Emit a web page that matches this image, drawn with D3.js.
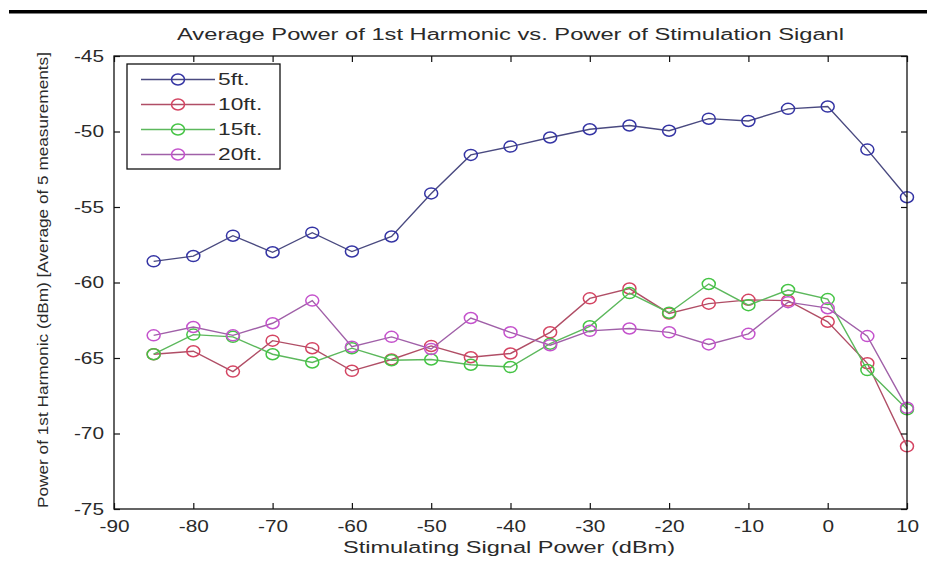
<!DOCTYPE html>
<html>
<head>
<meta charset="utf-8">
<script src="https://cdn.jsdelivr.net/npm/d3@7"></script>
<style>
  body { margin: 0; background: #fff; }
  svg { display: block; font-family: "Liberation Sans", Arial, sans-serif; }
</style>
</head>
<body>
<script>
// stimulating signal power (dBm)
const power = [-85, -80, -75, -70, -65, -60, -55, -50, -45, -40, -35, -30, -25, -20, -15, -10, -5, 0, 5, 10];
const ft5  = [-58.6, -58.25, -56.9, -58.0, -56.7, -57.95, -56.95, -54.1, -51.55, -51.0, -50.4, -49.85, -49.6, -49.95, -49.15, -49.3, -48.5, -48.35, -51.2, -54.35];
const ft10 = [-64.75, -64.55, -65.9, -63.85, -64.35, -65.85, -65.1, -64.2, -64.95, -64.7, -63.3, -61.05, -60.4, -62.05, -61.4, -61.15, -61.2, -62.6, -65.35, -70.85];
const ft15 = [-64.75, -63.45, -63.6, -64.75, -65.3, -64.35, -65.15, -65.1, -65.45, -65.6, -64.05, -62.9, -60.7, -62.0, -60.1, -61.5, -60.5, -61.1, -65.8, -68.4];
const ft20 = [-63.5, -62.95, -63.5, -62.7, -61.2, -64.25, -63.6, -64.4, -62.35, -63.3, -64.15, -63.2, -63.05, -63.3, -64.1, -63.4, -61.3, -61.7, -63.55, -68.3];
const seriesNames = ['5ft.', '10ft.', '15ft.', '20ft.'];
const xTicks = [-90, -80, -70, -60, -50, -40, -30, -20, -10, 0, 10];
const yTicks = [-45, -50, -55, -60, -65, -70, -75];

const lineColors = ['#4a4a80', '#b04e66', '#5cb85c', '#a060a8'];
const markColors = ['#3434a4', '#d44462', '#44c444', '#c452cc'];

const width = 927, height = 564;
const mLeft = 114, mRight = 907, mTop = 56, mBottom = 509;
const K = 1.42; // the picture is stretched sideways
const textColor = '#2a2a2a';

const svg = d3.select('body').append('svg')
    .attr('width', width)
    .attr('height', height);

function stretch(sel, k) {
    sel.each(function () {
        const w = this.getComputedTextLength();
        d3.select(this).attr('textLength', w * k).attr('lengthAdjust', 'spacingAndGlyphs');
    });
}

const x = d3.scaleLinear().domain([-90, 10]).range([mLeft, mRight]);
const y = d3.scaleLinear().domain([-75, -45]).range([mBottom, mTop]);

// rule at the top of the page
svg.append('rect')
    .attr('x', 9).attr('y', 10)
    .attr('width', width - 9).attr('height', 3.5)
    .attr('fill', '#000');

// series
const data = [ft5, ft10, ft15, ft20];
const line = d3.line()
    .x((d, i) => x(power[i]))
    .y(d => y(d));

const gSeries = svg.append('g');
data.forEach((vals, s) => {
    const g = gSeries.append('g');
    g.append('path')
        .attr('d', line(vals))
        .attr('fill', 'none')
        .attr('stroke', lineColors[s])
        .attr('stroke-width', 1.4);
    g.selectAll('ellipse')
        .data(vals)
        .enter().append('ellipse')
        .attr('cx', (d, i) => x(power[i]))
        .attr('cy', d => y(d))
        .attr('rx', 6.5)
        .attr('ry', 5.5)
        .attr('fill', 'none')
        .attr('stroke', markColors[s])
        .attr('stroke-width', 1.5);
});

// axes box with inward ticks
const axisColor = '#111';
svg.append('rect')
    .attr('x', mLeft).attr('y', mTop)
    .attr('width', mRight - mLeft).attr('height', mBottom - mTop)
    .attr('fill', 'none')
    .attr('stroke', axisColor)
    .attr('stroke-width', 1.3);

const fmt = d => String(d); // plain hyphen minus, as in the original
const xAxis = svg.append('g')
    .attr('transform', `translate(0,${mBottom})`)
    .call(d3.axisBottom(x).tickValues(xTicks).tickSizeInner(-6).tickSizeOuter(0).tickPadding(9).tickFormat(fmt));
const xAxisTop = svg.append('g')
    .attr('transform', `translate(0,${mTop})`)
    .call(d3.axisTop(x).tickValues(xTicks).tickSizeInner(-6).tickSizeOuter(0).tickFormat(''));
const yAxis = svg.append('g')
    .attr('transform', `translate(${mLeft},0)`)
    .call(d3.axisLeft(y).tickValues(yTicks).tickSizeInner(-6).tickSizeOuter(0).tickPadding(10).tickFormat(fmt));
const yAxisRight = svg.append('g')
    .attr('transform', `translate(${mRight},0)`)
    .call(d3.axisRight(y).tickValues(yTicks).tickSizeInner(-6).tickSizeOuter(0).tickFormat(''));

[xAxis, xAxisTop, yAxis, yAxisRight].forEach(a => {
    a.select('.domain').remove();
    a.selectAll('line').attr('stroke', axisColor).attr('stroke-width', 1.2);
    a.selectAll('text')
        .attr('fill', textColor)
        .style('font-size', '16px')
        .style('font-family', '"Liberation Sans", Arial, sans-serif');
});
xAxis.selectAll('text').attr('dy', '0.9em');
stretch(xAxis.selectAll('text'), 1.3);
stretch(yAxis.selectAll('text'), 1.3);

// titles
svg.append('text')
    .attr('x', (mLeft + mRight) / 2)
    .attr('y', 40)
    .attr('text-anchor', 'middle')
    .attr('fill', textColor)
    .style('font-size', '16px')
    .attr('textLength', 667)
    .attr('lengthAdjust', 'spacingAndGlyphs')
    .text('Average Power of 1st Harmonic vs. Power of Stimulation Siganl');

svg.append('text')
    .attr('x', 509)
    .attr('y', 553)
    .attr('text-anchor', 'middle')
    .attr('fill', textColor)
    .style('font-size', '16px')
    .attr('textLength', 332)
    .attr('lengthAdjust', 'spacingAndGlyphs')
    .text('Stimulating Signal Power (dBm)');

svg.append('text')
    .attr('transform', `translate(48,${(52 + 508) / 2}) rotate(-90)`)
    .attr('text-anchor', 'middle')
    .attr('fill', textColor)
    .style('font-size', '15px')
    .attr('textLength', 456)
    .attr('lengthAdjust', 'spacingAndGlyphs')
    .text('Power of 1st Harmonic (dBm) [Average of 5 measurements]');

// legend
const legend = svg.append('g');
legend.append('rect')
    .attr('x', 127).attr('y', 64)
    .attr('width', 153).attr('height', 105)
    .attr('fill', '#fff')
    .attr('stroke', axisColor)
    .attr('stroke-width', 1.3);

const rowY = d3.scalePoint().domain(seriesNames).range([79.5, 154.5]);
seriesNames.forEach((name, s) => {
    const ry = rowY(name);
    legend.append('line')
        .attr('x1', 141).attr('x2', 215)
        .attr('y1', ry).attr('y2', ry)
        .attr('stroke', lineColors[s])
        .attr('stroke-width', 1.4);
    legend.append('ellipse')
        .attr('cx', 178).attr('cy', ry)
        .attr('rx', 6.5).attr('ry', 5.5)
        .attr('fill', 'none')
        .attr('stroke', markColors[s])
        .attr('stroke-width', 1.5);
    const t = legend.append('text')
        .attr('x', 218).attr('y', ry)
        .attr('dy', '0.36em')
        .attr('fill', textColor)
        .style('font-size', '16px')
        .text(name);
    stretch(t, K);
});
</script>
</body>
</html>
